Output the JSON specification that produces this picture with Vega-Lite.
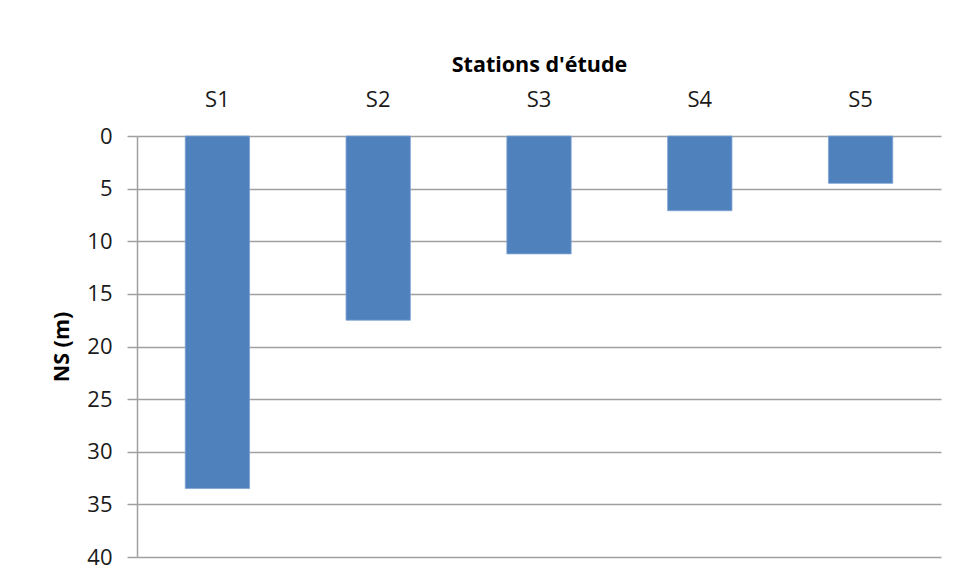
{
  "$schema": "https://vega.github.io/schema/vega-lite/v6.json",
  "width": 804,
  "height": 421,
  "autosize": {"type": "none"},
  "padding": {"left": 137, "top": 136, "right": 16, "bottom": 24},
  "background": "white",
  "data": {
    "values": [
      {"station": "S1", "ns": 33.5},
      {"station": "S2", "ns": 17.5},
      {"station": "S3", "ns": 11.2},
      {"station": "S4", "ns": 7.1},
      {"station": "S5", "ns": 4.5}
    ]
  },
  "mark": {"type": "bar", "color": "#4F81BD", "stroke": "#7FA3D3", "strokeWidth": 0.8},
  "encoding": {
    "x": {
      "field": "station",
      "type": "nominal",
      "sort": null,
      "scale": {"paddingInner": 0.6, "paddingOuter": 0.3},
      "axis": {
        "orient": "top",
        "title": "Stations d'étude",
        "labelAngle": 0,
        "ticks": false,
        "domain": false,
        "labelPadding": 25,
        "titlePadding": 12
      }
    },
    "y": {
      "field": "ns",
      "type": "quantitative",
      "scale": {"domain": [0, 40], "reverse": true, "nice": false},
      "axis": {
        "values": [0, 5, 10, 15, 20, 25, 30, 35, 40],
        "title": "NS (m)",
        "tickSize": 10,
        "labelPadding": 15,
        "titlePadding": 13
      }
    }
  },
  "config": {
    "view": {"stroke": null},
    "axis": {
      "labelFont": "Open Sans",
      "labelFontSize": 22,
      "labelColor": "#1a1a1a",
      "titleFont": "Open Sans",
      "titleFontSize": 21.5,
      "titleFontWeight": "bold",
      "titleColor": "#000000",
      "gridColor": "#A0A0A0",
      "gridWidth": 1.5,
      "gridOpacity": 1,
      "domainColor": "#A0A0A0",
      "domainWidth": 1.5,
      "tickColor": "#A0A0A0",
      "tickWidth": 1.5
    }
  }
}
